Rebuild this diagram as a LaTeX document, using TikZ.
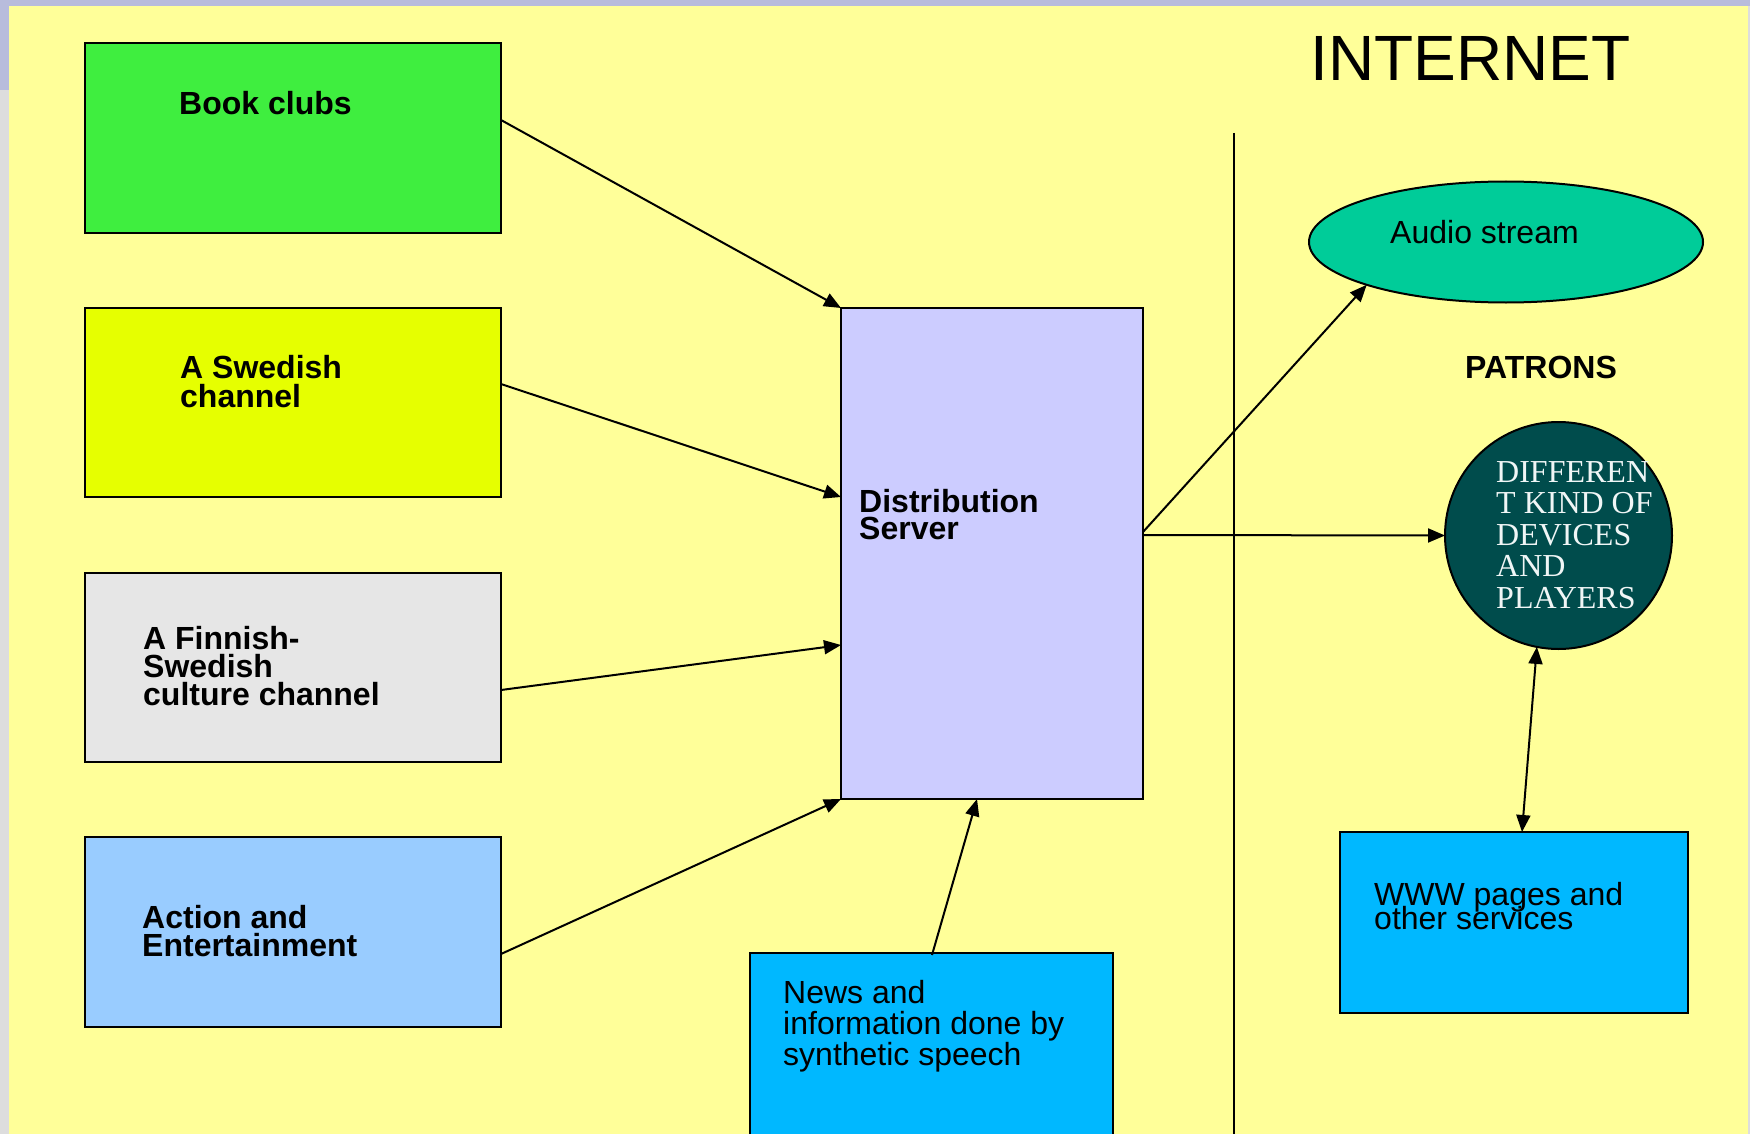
\documentclass[tikz,border=0pt]{standalone}
\usepackage{fontspec}
\setmainfont{Liberation Sans}
\newfontfamily\serifx{Liberation Serif}
\usetikzlibrary{arrows.meta,shapes.geometric,calc}
\definecolor{bgyellow}{HTML}{FFFF99}
\definecolor{framelav}{HTML}{B8BCDC}
\definecolor{framegray}{HTML}{DDDDDD}
\definecolor{bookgreen}{HTML}{3FEE3F}
\definecolor{swelime}{HTML}{E6FF00}
\definecolor{fingray}{HTML}{E6E6E6}
\definecolor{actblue}{HTML}{99CCFF}
\definecolor{dslav}{HTML}{CCCCFF}
\definecolor{skyblue}{HTML}{00B8FF}
\definecolor{audiogreen}{HTML}{00CC99}
\definecolor{devteal}{HTML}{004C4C}
\newcommand\mlines[2]{\vtop{\baselineskip=#1\relax\lineskiplimit=-\maxdimen\lineskip=0pt\halign{##\hfil\cr#2\crcr}}}
\tikzset{
  box/.style={draw=black, line width=2pt, rectangle, inner sep=0pt, outer sep=0pt, anchor=north west},
  lbl/.style={inner sep=0pt, anchor=base west, font=\fontsize{32}{32}\selectfont},
  blbl/.style={lbl, font=\fontsize{32}{32}\selectfont\bfseries},
  arr/.style={-{Triangle[length=17pt,width=14pt]}, line width=2pt},
  darr/.style={{Triangle[length=17pt,width=14pt]}-{Triangle[length=17pt,width=14pt]}, line width=2pt}
}
\begin{document}
\begin{tikzpicture}[x=1pt, y=-1pt]
\useasboundingbox (0,0) rectangle (1750,1134);
% frame and background
\fill[framegray] (0,0) rectangle (1750,1134);
\fill[framelav] (0,0) rectangle (1750,6);
\fill[framelav] (0,0) rectangle (9,90);
\fill[bgyellow] (9,6) rectangle (1748,1134);

% separator line
\coordinate (vtop) at (1234,133);
\coordinate (vbot) at (1234,1134);
\draw[line width=2pt] (vtop) -- (vbot);

% boxes
\node[box, fill=bookgreen, minimum width=416pt, minimum height=190pt] (book) at (85,43) {};
\node[box, fill=swelime, minimum width=416pt, minimum height=189pt] (swe) at (85,308) {};
\node[box, fill=fingray, minimum width=416pt, minimum height=189pt] (fin) at (85,573) {};
\node[box, fill=actblue, minimum width=416pt, minimum height=190pt] (act) at (85,837) {};
\node[box, fill=dslav, minimum width=302pt, minimum height=491pt] (ds) at (841,308) {};
\node[box, fill=skyblue, minimum width=363pt, minimum height=200pt] (news) at (750,953) {};
\node[box, fill=skyblue, minimum width=348pt, minimum height=181pt] (www) at (1340,832) {};
\node[draw=black, line width=2pt, ellipse, fill=audiogreen, inner sep=0pt, outer sep=0pt,
      minimum width=394pt, minimum height=121pt] (audio) at (1506,242) {};
\node[draw=black, line width=2pt, circle, fill=devteal, inner sep=0pt, outer sep=0pt,
      minimum size=227pt] (dev) at (1558.5,535.5) {};

% labels
\node[blbl] (bookT) at (179,115) {Book clubs};
\node[blbl] (sweT) at (180,378) {\mlines{29pt}{A Swedish\cr channel}};
\node[blbl] (finT) at (143,649) {\mlines{28pt}{A Finnish-\cr Swedish\cr culture channel}};
\node[blbl] (actT) at (142,928) {\mlines{28pt}{Action and\cr Entertainment}};
\node[blbl] (dsT) at (859,512) {\mlines{27pt}{Distribution\cr Server}};
\node[lbl] (newsT) at (783,1003) {\mlines{31pt}{News and\cr information done by\cr synthetic speech}};
\node[lbl] (wwwT) at (1374,905) {\mlines{24pt}{WWW pages and\cr other services}};
\node[lbl] (audioT) at (1390,243) {Audio stream};
\node[blbl] (patrons) at (1465,378) {PATRONS};
\node[lbl, font=\fontsize{64}{64}\selectfont] (inet) at (1310,81) {INTERNET};
\node[lbl, text={rgb,255:red,240;green,246;blue,246}, font=\fontsize{32}{32}\selectfont\serifx] (devT) at (1496,482)
  {\mlines{31.5pt}{DIFFEREN\cr T KIND OF\cr DEVICES\cr AND\cr PLAYERS}};

% connectors
\draw[arr] ($(book.north east)+(0,77)$) -- (ds.north west);
\draw[arr] ($(swe.north east)+(0,76)$) -- ($(ds.north west)+(0,189)$);
\draw[arr] ($(fin.north east)+(0,117)$) -- ($(ds.north west)+(0,337)$);
\draw[arr] ($(act.north east)+(0,117)$) -- (ds.south west);
\draw[arr] ($(news.north west)+(182,2)$) -- ($(ds.south west)+(136,0)$);
\draw[arr] ($(ds.north east)+(0,224)$) -- (audio.south west);
\draw[arr] ($(ds.north east)+(0,227)$) -- (dev.west);
\draw[darr] (dev.259) -- ($(www.north west)+(182,0)$);
\end{tikzpicture}
\end{document}
